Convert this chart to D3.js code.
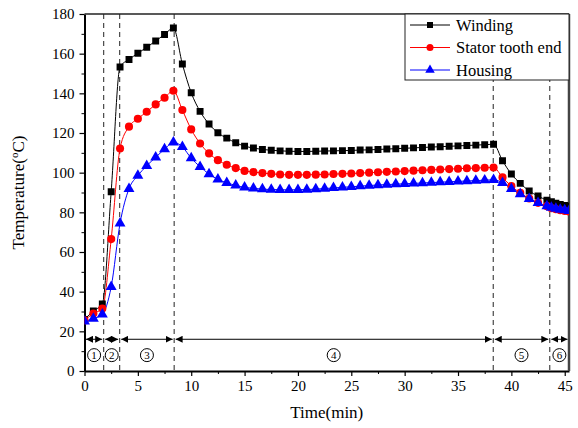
<!DOCTYPE html>
<html>
<head>
<meta charset="utf-8">
<script src="https://cdn.jsdelivr.net/npm/d3@7"></script>
<style>
  body { margin: 0; background: #fff; }
  svg text { font-family: "Liberation Serif", "Times New Roman", serif; fill: #000; }
</style>
</head>
<body>
<div id="viz-container"></div>
<script>
// time (min) of each sample
const time = [0, 0.83, 1.67, 2.5, 3.33, 4.17, 5.0, 5.83, 6.67, 7.5, 8.33, 9.17, 10.0, 10.83, 11.67,
    12.5, 13.33, 14.17, 15.0, 15.83, 16.67, 17.5, 18.33, 19.17, 20.0, 20.83, 21.67, 22.5, 23.33,
    24.17, 25.0, 25.83, 26.67, 27.5, 28.33, 29.17, 30.0, 30.83, 31.67, 32.5, 33.33, 34.17, 35.0,
    35.83, 36.67, 37.5, 38.33, 39.17, 40.0, 40.83, 41.67, 42.5, 43.33, 43.75, 44.17, 44.58, 45.0, 45.4];

const winding = [26, 30.3, 33.8, 90.4, 153.3, 157.1, 160.2, 163.2, 166.4, 169.7, 172.9, 154.8, 140.3, 130.9, 124.5,
    120.1, 117.4, 115.1, 113.4, 112.4, 111.7, 111.3, 111.0, 110.8, 110.7, 110.7, 110.8, 110.9, 111.0,
    111.1, 111.2, 111.4, 111.5, 111.7, 111.9, 112.1, 112.3, 112.5, 112.7, 112.9, 113.1, 113.3, 113.5,
    113.7, 113.9, 114.1, 114.3, 106.0, 99.3, 94.6, 90.8, 88.2, 86.1, 85.3, 84.6, 84.0, 83.5, 83.1];

const statorToothEnd = [25.5, 29.0, 31.5, 66.5, 112.2, 123.2, 127.2, 130.7, 134.4, 137.8, 141.3, 131.6, 121.8, 114.7, 109.7,
    106.3, 104.0, 102.3, 100.9, 100.3, 99.8, 99.4, 99.1, 98.9, 98.9, 98.9, 99.0, 99.1, 99.3,
    99.4, 99.6, 99.8, 100.0, 100.2, 100.4, 100.6, 100.8, 101.0, 101.2, 101.4, 101.6, 101.8, 102.0,
    102.2, 102.3, 102.5, 102.6, 97.6, 93.2, 89.8, 87.0, 84.8, 83.1, 82.1, 81.6, 81.1, 80.7, 80.4];

const housing = [25.0, 26.4, 28.6, 42.4, 74.4, 91.9, 98.5, 103.5, 107.7, 111.9, 115.3, 113.0, 107.3, 103.0, 99.3,
    96.6, 94.9, 93.6, 92.6, 92.1, 91.7, 91.5, 91.4, 91.3, 91.4, 91.5, 91.7, 92.0, 92.3,
    92.6, 92.9, 93.2, 93.5, 93.8, 94.0, 94.2, 94.4, 94.6, 94.8, 95.0, 95.2, 95.4, 95.6,
    95.8, 96.0, 96.2, 96.4, 94.9, 91.8, 89.2, 86.8, 84.8, 83.1, 82.4, 81.9, 81.4, 81.1, 80.7];

// stage boundaries (min) and stage labels
const stageBounds = [0, 1.8, 3.3, 8.4, 38.3, 43.6, 45.4];
const stageLabels = ["1", "2", "3", "4", "5", "6"];

const xTicks = [0, 5, 10, 15, 20, 25, 30, 35, 40, 45];
const yTicks = [0, 20, 40, 60, 80, 100, 120, 140, 160, 180];

const width = 578, height = 428;
const margin = { top: 14, right: 9, bottom: 57, left: 84.5 };
const serif = "Liberation Serif";

const svg = d3.select("#viz-container")
    .append("svg")
    .attr("width", width)
    .attr("height", height);

const x = d3.scaleLinear().domain([0, 45.4]).range([margin.left, width - margin.right]);
const y = d3.scaleLinear().domain([0, 180]).range([height - margin.bottom, margin.top]);

svg.append("clipPath").attr("id", "clip")
    .append("rect")
    .attr("x", margin.left).attr("y", margin.top - 6)
    .attr("width", x(45.4) - margin.left).attr("height", y(0) - margin.top + 6);

// minor ticks first, then major with labels
svg.append("g")
    .attr("transform", `translate(0,${y(0)})`)
    .call(d3.axisBottom(x).tickValues(d3.range(2.5, 45, 5)).tickSize(3).tickFormat(""))
    .call(g => g.select(".domain").remove());
svg.append("g")
    .attr("transform", `translate(${margin.left},0)`)
    .call(d3.axisLeft(y).tickValues(d3.range(10, 180, 20)).tickSize(3).tickFormat(""))
    .call(g => g.select(".domain").remove());

const xAxis = svg.append("g")
    .attr("transform", `translate(0,${y(0)})`)
    .call(d3.axisBottom(x).tickValues(xTicks).tickSize(5).tickPadding(4).tickSizeOuter(0));
const yAxis = svg.append("g")
    .attr("transform", `translate(${margin.left},0)`)
    .call(d3.axisLeft(y).tickValues(yTicks).tickSize(5).tickPadding(5).tickSizeOuter(0));

[xAxis, yAxis].forEach(g => {
    g.attr("font-family", serif).attr("font-size", 15);
    g.selectAll("text").attr("font-family", serif).style("font-size", "15px");
    g.select(".domain").attr("stroke-width", 2);
    g.selectAll(".tick line").attr("stroke-width", 1.2);
});

// top and right frame
svg.append("line")
    .attr("x1", margin.left).attr("x2", x(45.4))
    .attr("y1", y(180)).attr("y2", y(180))
    .attr("stroke", "#222").attr("stroke-width", 1.5);
svg.append("line")
    .attr("x1", x(45.4)).attr("x2", x(45.4))
    .attr("y1", y(180)).attr("y2", y(0))
    .attr("stroke", "#444").attr("stroke-width", 2.5);

// dashed stage dividers
svg.append("g")
    .selectAll("line")
    .data(stageBounds.slice(1, -1))
    .join("line")
    .attr("x1", d => x(d)).attr("x2", d => x(d))
    .attr("y1", y(180)).attr("y2", y(0))
    .attr("stroke", "#222")
    .attr("stroke-width", 1)
    .attr("stroke-dasharray", "5,4");

// double arrows + circled stage numbers
const defs = svg.append("defs");
["arrEnd", "arrStart"].forEach((id, i) => {
    defs.append("marker")
        .attr("id", id)
        .attr("viewBox", "0 0 10 10")
        .attr("refX", i === 0 ? 10 : 0).attr("refY", 5)
        .attr("markerWidth", 7).attr("markerHeight", 7)
        .attr("markerUnits", "userSpaceOnUse")
        .attr("orient", "auto")
        .append("path")
        .attr("d", i === 0 ? "M0,0L10,5L0,10Z" : "M10,0L0,5L10,10Z")
        .attr("fill", "#000");
});

const stages = stageLabels.map((lab, i) => ({ lab, a: stageBounds[i], b: stageBounds[i + 1] }));
const arrowY = y(16), labelY = y(8);

svg.append("g")
    .selectAll("line")
    .data(stages)
    .join("line")
    .attr("x1", d => x(d.a) + 1.5).attr("x2", d => x(d.b) - 1.5)
    .attr("y1", arrowY).attr("y2", arrowY)
    .attr("stroke", "#000").attr("stroke-width", 1)
    .attr("marker-start", "url(#arrStart)")
    .attr("marker-end", "url(#arrEnd)");

const lab = svg.append("g").selectAll("g")
    .data(stages)
    .join("g")
    .attr("transform", d => `translate(${x((d.a + d.b) / 2)},${labelY})`);
lab.append("circle")
    .attr("r", 6.5)
    .attr("fill", "none").attr("stroke", "#000").attr("stroke-width", 1);
lab.append("text")
    .attr("text-anchor", "middle")
    .attr("dy", "0.35em")
    .style("font-size", "11px")
    .text(d => d.lab);

// series
const series = [
    { name: "Winding", values: winding, color: "#000000", shape: d3.symbolSquare, size: 48 },
    { name: "Stator tooth end", values: statorToothEnd, color: "#ff0000", shape: d3.symbolCircle, size: 52 },
    { name: "Housing", values: housing, color: "#0000ff", shape: d3.symbolTriangle, size: 52 },
];

const line = d3.line()
    .x((d, i) => x(time[i]))
    .y(d => y(d))
    .curve(d3.curveMonotoneX);

const plot = svg.append("g").attr("clip-path", "url(#clip)");

series.forEach(s => {
    plot.append("path")
        .datum(s.values)
        .attr("fill", "none")
        .attr("stroke", s.color)
        .attr("stroke-width", 1)
        .attr("d", line);
});
series.forEach(s => {
    plot.append("g")
        .selectAll("path")
        .data(s.values)
        .join("path")
        .attr("transform", (d, i) => `translate(${x(time[i])},${y(d)})`)
        .attr("d", d3.symbol().type(s.shape).size(s.size))
        .attr("fill", s.color);
});

// legend
const legend = svg.append("g");
legend.append("rect")
    .attr("x", 405).attr("y", margin.top)
    .attr("width", x(45.4) - 405).attr("height", 66)
    .attr("fill", "#fff").attr("stroke", "#222").attr("stroke-width", 1);

const item = legend.selectAll("g")
    .data(series)
    .join("g")
    .attr("transform", (d, i) => `translate(410,${25 + i * 22.5})`);
item.append("line")
    .attr("x1", 0).attr("x2", 40)
    .attr("stroke", d => d.color).attr("stroke-width", 1);
item.append("path")
    .attr("transform", "translate(20,0)")
    .attr("d", d => d3.symbol().type(d.shape).size(d.size * 0.75)())
    .attr("fill", d => d.color);
item.append("text")
    .attr("x", 46)
    .attr("dy", "0.35em")
    .style("font-size", "16.5px")
    .text(d => d.name);

// axis titles
svg.append("text")
    .attr("x", (margin.left + x(45.4)) / 2)
    .attr("y", 418)
    .attr("text-anchor", "middle")
    .style("font-size", "17px")
    .text("Time(min)");

const yt = svg.append("text")
    .attr("transform", `translate(24,${(y(0) + y(180)) / 2}) rotate(-90)`)
    .attr("text-anchor", "middle")
    .style("font-size", "17px");
yt.append("tspan").text("Temperature(");
yt.append("tspan").attr("dy", "-6").style("font-size", "11px").text("o");
yt.append("tspan").attr("dy", "6").text("C)");
</script>
</body>
</html>
